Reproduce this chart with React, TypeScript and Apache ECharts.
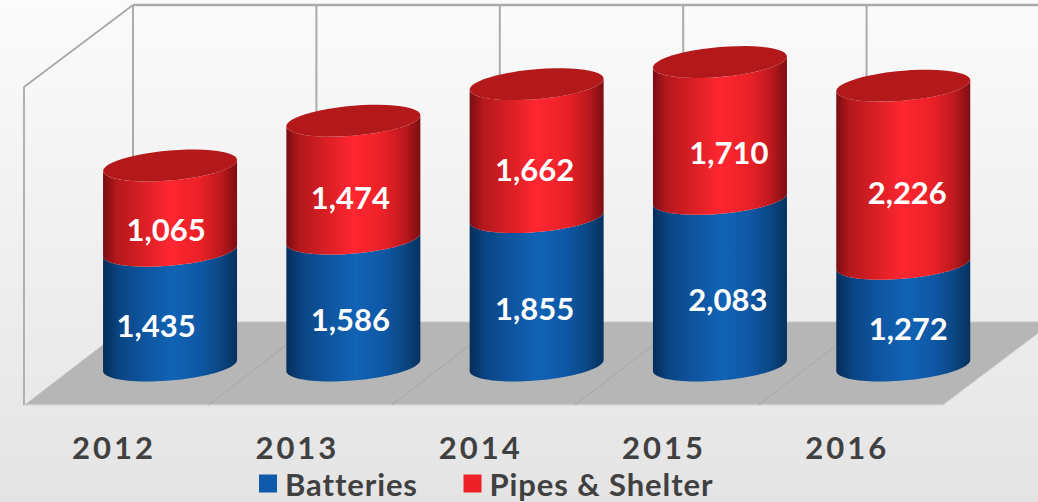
import React, { useEffect, useRef } from "react";
import * as echarts from "echarts";

const years = ["2012", "2013", "2014", "2015", "2016"];
const batteries = [1435, 1586, 1855, 2083, 1272];
const pipesShelter = [1065, 1474, 1662, 1710, 2226];

const WIDTH = 1038;
const HEIGHT = 502;
const FONT = "Lato, 'Open Sans', sans-serif";
const TEXT_DARK = "#404040";

// hand-placed data label offsets from the centre of each segment [dx, dy]
const batteryNudge = [[-14, 17], [-3, 17], [-2, 17], [8, 17], [5, 13]];
const pipesNudge = [[-4, 21], [-3, 17], [-2, 18], [9, 22], [4, 17]];

const bodyBlue = [
  [0, "#052d5a"], [0.12, "#0a4583"], [0.3, "#0e549f"], [0.52, "#1163b5"],
  [0.72, "#0f58a6"], [0.88, "#0b4682"], [1, "#06315f"],
];
const bodyRed = [
  [0, "#7a0d11"], [0.1, "#b4181c"], [0.3, "#d91f25"], [0.5, "#ff2630"],
  [0.72, "#eb2128"], [0.88, "#bd191e"], [1, "#7c0e12"],
];

const gradient = (stops: any[]) =>
  new echarts.graphic.LinearGradient(0, 0, 1, 0, stops.map(([offset, color]) => ({ offset, color })));

const RY = 15;
const SHEAR = 5.5;
const STEPS = 48;

function arc(cx: number, cy: number, a: number, from: number, to: number) {
  const pts: number[][] = [];
  for (let i = 0; i <= STEPS; i++) {
    const t = from + ((to - from) * i) / STEPS;
    pts.push([cx + a * Math.cos(t), cy + RY * Math.sin(t) - SHEAR * Math.cos(t)]);
  }
  return pts;
}

function makeRenderItem(bodyStops: any[], hasLid: boolean, nudge: number[][]) {
  return (params: any, api: any) => {
    const i = params.dataIndex;
    const base = api.value(1);
    const value = api.value(2);
    const [cx, y0] = api.coord([api.value(0), base]);
    const [, y1] = api.coord([api.value(0), base + value]);
    const a = api.size([1, 0])[0] * 0.3655;
    // lower front edge runs left to right, upper front edge back right to left
    const body = [...arc(cx, y0, a, Math.PI, 0), ...arc(cx, y1, a, 0, Math.PI)];
    const children: any[] = [
      {
        type: "polygon",
        shape: { points: body },
        style: { fill: gradient(bodyStops) },
      },
    ];
    if (hasLid) {
      children.push({
        type: "polygon",
        shape: { points: arc(cx, y1, a, 0, Math.PI * 2) },
        style: { fill: "#b3191b" },
      });
    }
    children.push({
      type: "text",
      x: cx + nudge[i][0],
      y: (y0 + y1) / 2 + nudge[i][1],
      style: {
        text: value.toLocaleString("en-US"),
        fill: "#ffffff",
        font: `bold 31px ${FONT}`,
        align: "center",
        verticalAlign: "middle",
      },
    });
    return { type: "group", children };
  };
}

const FRONT_Y = 405;
const BACK_Y = 322;
const TOP_Y = 5;
const DEPTH_X = 108;
const WALL_START = 133;
const WALL_STEP = 183.4;

function sceneGraphics() {
  const wall = "#ababab";
  const out: any[] = [
    {
      type: "polygon",
      z: 0,
      shape: { points: [[25, FRONT_Y], [943, FRONT_Y], [943 + 110, BACK_Y], [WALL_START, BACK_Y]] },
      style: { fill: "#b6b6b6" },
    },
    { type: "line", z: 1, shape: { x1: 25, y1: FRONT_Y, x2: 943, y2: FRONT_Y }, style: { stroke: "#d4d4d4", lineWidth: 1.5 } },
    { type: "line", z: 1, shape: { x1: WALL_START, y1: BACK_Y, x2: WIDTH, y2: BACK_Y }, style: { stroke: "#c6c6c6", lineWidth: 1 } },
    { type: "line", z: 1, shape: { x1: 24, y1: 87, x2: 24, y2: FRONT_Y }, style: { stroke: "#b0b0b0", lineWidth: 2 } },
    { type: "line", z: 1, shape: { x1: 24, y1: 87, x2: WALL_START, y2: TOP_Y }, style: { stroke: wall, lineWidth: 2 } },
    { type: "line", z: 1, shape: { x1: WALL_START, y1: TOP_Y, x2: WIDTH, y2: TOP_Y }, style: { stroke: wall, lineWidth: 2.5 } },
    { type: "line", z: 1, shape: { x1: 943, y1: FRONT_Y, x2: 1053, y2: BACK_Y }, style: { stroke: "#d4d4d4", lineWidth: 1 } },
    { type: "line", z: 1, shape: { x1: 25, y1: FRONT_Y, x2: WALL_START, y2: BACK_Y }, style: { stroke: "#bdbdbd", lineWidth: 1 } },
  ];
  for (let i = 0; i < years.length; i++) {
    const x = WALL_START + WALL_STEP * i;
    out.push({ type: "line", z: 1, shape: { x1: x, y1: TOP_Y, x2: x, y2: BACK_Y }, style: { stroke: wall, lineWidth: 2 } });
    if (i > 0) {
      out.push({ type: "line", z: 1, shape: { x1: x - DEPTH_X, y1: FRONT_Y, x2: x, y2: BACK_Y }, style: { stroke: "#a6a6a6", lineWidth: 1 } });
    }
  }
  return out;
}

export default function App() {
  const ref = useRef<HTMLDivElement>(null);

  useEffect(() => {
    document.body.style.margin = "0";
    const chart = echarts.init(ref.current!, null, { renderer: "svg" });

    const applySpacing = () => {
      ref.current?.querySelectorAll("text").forEach((t) => {
        const s = t.textContent || "";
        if (years.includes(s)) t.style.letterSpacing = "3px";
        else if (s === "Batteries" || s === "Pipes & Shelter") t.style.letterSpacing = "0.9px";
      });
    };

    chart.setOption({
      animation: false,
      backgroundColor: new echarts.graphic.LinearGradient(0, 0, 0, 1, [
        { offset: 0, color: "#fbfbfb" },
        { offset: 1, color: "#e4e4e4" },
      ]),
      legend: {
        left: 259,
        top: 468,
        padding: 0,
        icon: "rect",
        itemWidth: 18,
        itemHeight: 18,
        itemGap: 55,
        textStyle: { color: TEXT_DARK, fontFamily: FONT, fontWeight: "bold", fontSize: 31, padding: [0, 0, 0, 3] },
        data: ["Batteries", "Pipes & Shelter"],
      },
      graphic: sceneGraphics(),
      grid: [
        { left: 78.4, width: 916.5, top: 45.5, height: 320 },
        { left: 22.4, width: 916.5, top: 395, height: 10 },
      ],
      xAxis: [
        { type: "category", gridIndex: 0, data: years, axisLine: { show: false }, axisTick: { show: false }, axisLabel: { show: false } },
        {
          type: "category",
          gridIndex: 1,
          data: years,
          axisLine: { show: false },
          axisTick: { show: false },
          axisLabel: { margin: 26, color: TEXT_DARK, fontFamily: FONT, fontWeight: "bold", fontSize: 31 },
        },
      ],
      yAxis: [
        { type: "value", gridIndex: 0, min: 0, max: 4000, show: false },
        { type: "value", gridIndex: 1, min: 0, max: 1, show: false },
      ],
      series: [
        {
          name: "Batteries",
          type: "custom",
          xAxisIndex: 0,
          yAxisIndex: 0,
          clip: false,
          itemStyle: { color: "#0f5aaa" },
          encode: { x: 0, y: 1 },
          renderItem: makeRenderItem(bodyBlue, false, batteryNudge),
          data: batteries.map((v, i) => [i, 0, v]),
        },
        {
          name: "Pipes & Shelter",
          type: "custom",
          xAxisIndex: 0,
          yAxisIndex: 0,
          clip: false,
          itemStyle: { color: "#ee2028" },
          encode: { x: 0, y: 1 },
          renderItem: makeRenderItem(bodyRed, true, pipesNudge),
          data: pipesShelter.map((v, i) => [i, batteries[i], v]),
        },
      ],
    });
    applySpacing();
    chart.on("finished", applySpacing);

    return () => chart.dispose();
  }, []);

  return <div ref={ref} style={{ width: WIDTH, height: HEIGHT }} />;
}
